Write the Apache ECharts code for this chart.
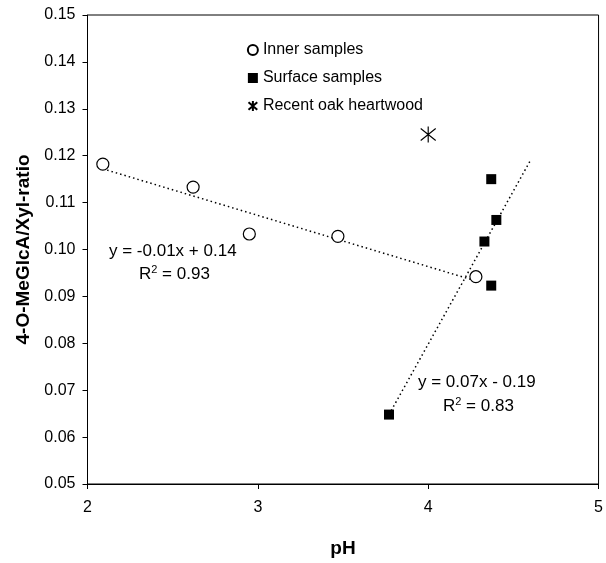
<!DOCTYPE html>
<html>
<head>
<meta charset="utf-8">
<script src="https://cdn.jsdelivr.net/npm/echarts@6/dist/echarts.min.js"></script>
<style>html,body{margin:0;padding:0;background:#fff}#c{width:606px;height:563px}</style>
</head>
<body>
<div id="c"></div>
<script>
// Data
const innerSamples = [[2.09, 0.1182], [2.62, 0.1133], [2.95, 0.1033], [3.47, 0.1028], [4.28, 0.0942]];
const surfaceSamples = [[3.77, 0.0648], [4.33, 0.1017], [4.37, 0.1150], [4.37, 0.0923], [4.40, 0.1063]];
const oakHeartwood = [[4.00, 0.1245]];
const innerTrend = [[2.09, 0.1172], [4.28, 0.0933]];
const surfaceTrend = [[3.77, 0.0648], [4.60, 0.1190]];
const xTicks = [2, 3, 4, 5];
const yTicks = [0.05, 0.06, 0.07, 0.08, 0.09, 0.10, 0.11, 0.12, 0.13, 0.14, 0.15];
const innerEq = ['y = -0.01x + 0.14', '0.93'];
const surfaceEq = ['y = 0.07x - 0.19', '0.83'];

const FONT = 'Arial, "Liberation Sans", sans-serif';
const chart = echarts.init(document.getElementById('c'), null, {renderer: 'canvas'});
const asterisk = 'path://M0,-8L0,8M-7,-6L7,6M-7,6L7,-6';

const rich = {
  a: {fontSize: 17, fontFamily: FONT, color: '#000'},
  s: {fontSize: 11, fontFamily: FONT, color: '#000', padding: [0, 0, 9, 0]}
};

chart.setOption({
  animation: false,
  backgroundColor: '#fff',
  textStyle: {fontFamily: FONT, color: '#000'},
  grid: {left: 87.5, right: 5, top: 15, bottom: 74, show: true, borderColor: '#000', borderWidth: 1},
  legend: {
    orient: 'vertical', left: 241, top: 37, itemGap: 12, itemWidth: 10, itemHeight: 10,
    textStyle: {fontSize: 16, fontFamily: FONT, color: '#000'},
    data: ['Inner samples', 'Surface samples', 'Recent oak heartwood']
  },
  xAxis: {
    type: 'value', min: xTicks[0], max: xTicks[xTicks.length - 1], interval: 1,
    name: 'pH', nameLocation: 'middle', nameGap: 55,
    nameTextStyle: {fontSize: 19, fontWeight: 'bold', fontFamily: FONT, color: '#000'},
    axisLine: {lineStyle: {color: '#000'}},
    axisTick: {show: true, inside: false, length: 5, lineStyle: {color: '#000'}},
    axisLabel: {fontSize: 16, color: '#000', margin: 16, fontFamily: FONT},
    splitLine: {show: false}
  },
  yAxis: {
    type: 'value', min: yTicks[0], max: yTicks[yTicks.length - 1], interval: 0.01,
    name: '4-O-MeGlcA/Xyl-ratio', nameLocation: 'middle', nameGap: 54,
    nameTextStyle: {fontSize: 19, fontWeight: 'bold', fontFamily: FONT, color: '#000'},
    axisLine: {lineStyle: {color: '#000'}},
    axisTick: {show: true, inside: false, length: 5, lineStyle: {color: '#000'}},
    axisLabel: {fontSize: 16, color: '#000', margin: 12, fontFamily: FONT, formatter: v => v.toFixed(2)},
    splitLine: {show: false}
  },
  series: [
    {name: 'innerTrend', type: 'line', data: innerTrend, symbol: 'none', silent: true,
     lineStyle: {color: '#000', width: 1.5, type: [1.5, 3]}, z: 1},
    {name: 'surfaceTrend', type: 'line', data: surfaceTrend, symbol: 'none', silent: true,
     lineStyle: {color: '#000', width: 1.5, type: [1.5, 3]}, z: 1},
    {name: 'Inner samples', type: 'scatter', data: innerSamples, symbol: 'circle', symbolSize: 12,
     itemStyle: {color: '#fff', borderColor: '#000', borderWidth: 1.2, opacity: 1}, z: 3},
    {name: 'Surface samples', type: 'scatter', data: surfaceSamples, symbol: 'rect', symbolSize: 10,
     itemStyle: {color: '#000', opacity: 1}, z: 3},
    {name: 'Recent oak heartwood', type: 'scatter', data: oakHeartwood, symbol: asterisk, symbolSize: [15, 16],
     itemStyle: {color: 'none', borderColor: '#000', borderWidth: 1.2, opacity: 1}, z: 3}
  ],
  graphic: [
    {type: 'text', left: 109, top: 243, style: {text: innerEq[0], font: '17px ' + FONT, fill: '#000'}},
    {type: 'text', left: 139, top: 264, style: {text: '{a|R}{s|2}{a| = ' + innerEq[1] + '}', rich: rich}},
    {type: 'text', left: 418, top: 374, style: {text: surfaceEq[0], font: '17px ' + FONT, fill: '#000'}},
    {type: 'text', left: 443, top: 396, style: {text: '{a|R}{s|2}{a| = ' + surfaceEq[1] + '}', rich: rich}}
  ]
});
</script>
</body>
</html>
